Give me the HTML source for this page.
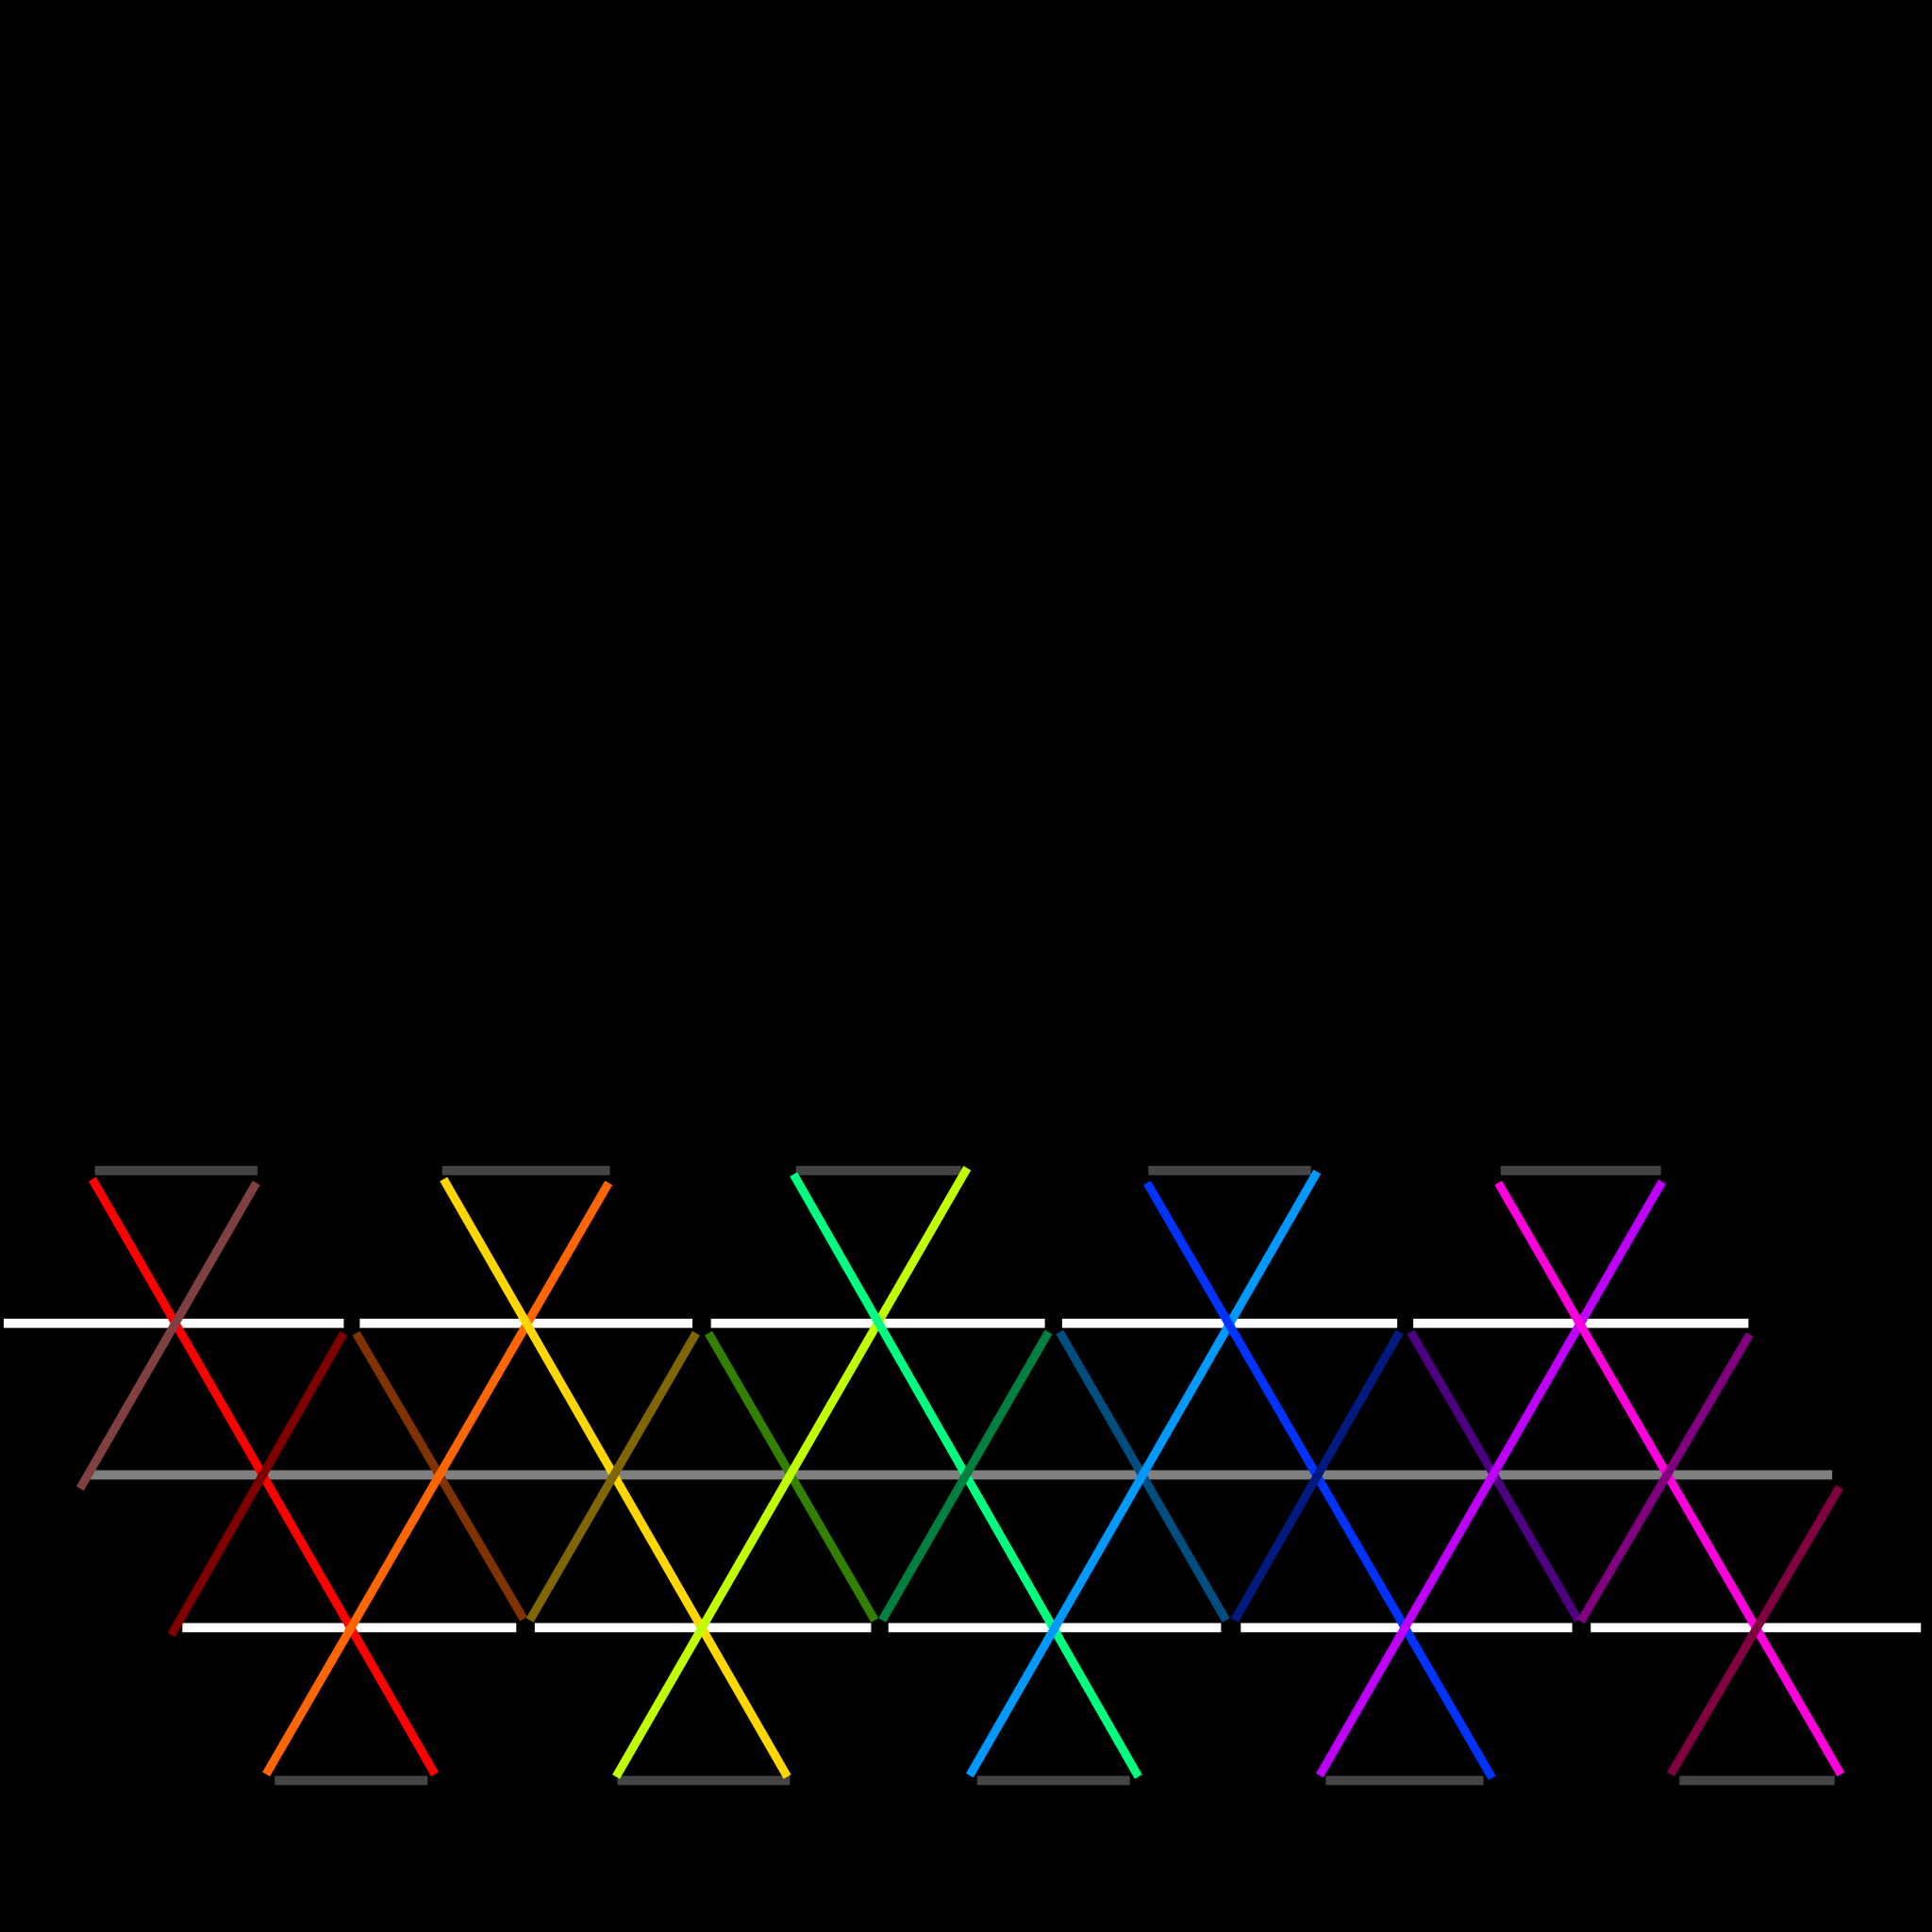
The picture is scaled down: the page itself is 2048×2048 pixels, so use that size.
<!DOCTYPE html>
<html><head><meta charset="utf-8"><style>html,body{margin:0;background:#000}svg{display:block}</style></head>
<body>
<svg id="chart" width="2048" height="2048" viewBox="0 0 1568 1568" xmlns="http://www.w3.org/2000/svg">
<rect width="1568" height="1568" fill="#000"/>
<g id="hlines"></g><g id="dlines"></g>
</svg>
<script>
const hY=[950,1074,1197,1321,1445];
const hColors=['#444','#fff','#808080','#fff','#444'];
const hSegs=[
 [[77,209],[359,495],[646,780],[932,1064],[1218,1348]],
 [[3,279],[292,562],[577,848],[862,1134],[1147,1419]],
 [[70,1487]],
 [[148,419],[434,707],[721,991],[1007,1276],[1291,1559]],
 [[223,347],[501,641],[793,917],[1076,1204],[1363,1489]]
];
const dX1=[75,208,279,289,494,360,565,575,785,644,851,860,1069,931,1136,1145,1349,1216,1420,1493];
const dY1=[957,960,1082,1082,960,957,1082,1082,948,953,1081,1081,951,960,1081,1081,959,960,1083,1207];
const dX2=[353,65,139,425,216,639,430,710,500,924,716,995,787,1211,1002,1281,1071,1494,1283,1356];
const dY2=[1440,1208,1327,1314,1440,1442,1315,1315,1442,1442,1315,1315,1441,1443,1315,1315,1441,1440,1316,1440];
const dColors=['#ff0000','#804040','#800000','#803300','#ff6600','#ffd700','#806600','#338000','#bfff00','#00ff80','#008040','#004d80','#0099ff','#0033ff','#001a80','#4d0080','#bf00ff','#ff00dd','#800080','#800040'];
const NS='http://www.w3.org/2000/svg';
const hg=document.getElementById('hlines');
hSegs.forEach((row,r)=>row.forEach((s,i)=>{
 const l=document.createElementNS(NS,'line');
 l.setAttribute('x1',s[0]);l.setAttribute('x2',s[1]);
 l.setAttribute('y1',hY[r]);l.setAttribute('y2',hY[r]);
 l.setAttribute('stroke',hColors[r]);l.setAttribute('stroke-width',7.5);
 
 
 hg.appendChild(l);
}));
const dg=document.getElementById('dlines');
dColors.forEach((c,i)=>{
 const l=document.createElementNS(NS,'line');
 l.setAttribute('x1',dX1[i]);l.setAttribute('y1',dY1[i]);
 l.setAttribute('x2',dX2[i]);l.setAttribute('y2',dY2[i]);
 l.setAttribute('stroke',c);l.setAttribute('stroke-width',7);
 
 
 dg.appendChild(l);
});
</script>
</body></html>
